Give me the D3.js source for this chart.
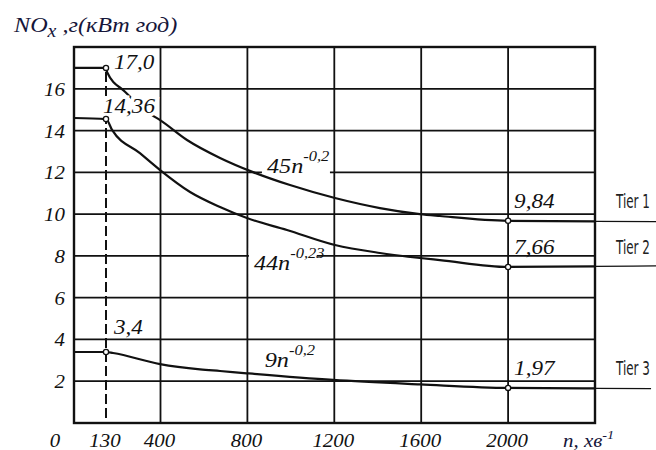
<!DOCTYPE html>
<html>
<head>
<meta charset="utf-8">
<script src="https://cdn.jsdelivr.net/npm/d3@7"></script>
<style>
body { margin: 0; background: #fff; }
</style>
</head>
<body>
<div id="chart"></div>
<script>
var W = 656, H = 450;
var SX = 1.1; // the scan is stretched sideways

// engine speed n, rpm and NOx, g/kWh
var tier1_n = [0, 130, 135, 224, 358, 398, 522, 674, 826, 996, 1203, 1410, 1594, 1686, 2000, 2681];
var tier1_v = [17.0, 17.0, 16.8, 15.86, 14.74, 14.5, 13.55, 12.69, 12.01, 11.39, 10.77, 10.29, 10.0, 9.91, 9.68, 9.64];

var tier2_n = [0, 130, 160, 298, 398, 536, 674, 798, 982, 1203, 1410, 1594, 1686, 2000, 2681];
var tier2_v = [14.6, 14.55, 14.03, 12.92, 12.11, 11.06, 10.34, 9.81, 9.24, 8.52, 8.14, 7.9, 7.8, 7.47, 7.52];

var tier3_n = [0, 130, 165, 398, 582, 674, 797, 1194, 1595, 2000, 2658];
var tier3_v = [3.4, 3.4, 3.35, 2.82, 2.57, 2.49, 2.38, 2.06, 1.85, 1.68, 1.65];

var tier_names = ["Tier 1", "Tier 2", "Tier 3"];
var start_labels = ["17,0", "14,36", "3,4"];
var end_labels = ["9,84", "7,66", "1,97"];
var formula_base = ["45n", "44n", "9n"];
var formula_exp = ["-0,2", "-0,23", "-0,2"];
var formula_n = [890, 830, 880];
var formula_v = [11.97, 7.33, 2.69];

var x_ticks = [130, 400, 800, 1200, 1600, 2000];
var x_grid = [400, 800, 1200, 1600, 2000];
var y_ticks = [2, 4, 6, 8, 10, 12, 14, 16];

var x = d3.scaleLinear().domain([0, 130, 400, 2400]).range([74, 106, 160.5, 595]);
var y = d3.scaleLinear().domain([0, 18]).range([423, 47]);

var svg = d3.select("#chart").append("svg")
	.attr("width", W)
	.attr("height", H);

var serif = "Liberation Serif, DejaVu Serif, Times New Roman, serif";

function label(px, py, size, anchor) {
	return svg.append("text")
		.attr("transform", "translate(" + px + "," + py + ") scale(" + SX + ",1)")
		.style("font-family", serif)
		.style("font-style", "italic")
		.style("font-size", size + "px")
		.attr("text-anchor", anchor || "start")
		.attr("fill", "#111");
}

// grid
var grid = svg.append("g").attr("stroke", "#111").attr("stroke-width", 1.8);
grid.selectAll(".h").data(y_ticks).enter().append("line")
	.attr("x1", x(0)).attr("x2", x(2400))
	.attr("y1", function(d) { return y(d); })
	.attr("y2", function(d) { return y(d); });
grid.selectAll(".v").data(x_grid).enter().append("line")
	.attr("x1", function(d) { return x(d); })
	.attr("x2", function(d) { return x(d); })
	.attr("y1", y(18)).attr("y2", y(0));

// frame
svg.append("rect")
	.attr("x", x(0)).attr("y", y(18))
	.attr("width", x(2400) - x(0)).attr("height", y(0) - y(18))
	.attr("fill", "none").attr("stroke", "#111").attr("stroke-width", 2.4);

// white patches where the formulas break the grid
formula_base.forEach(function(b, i) {
	if (i == 2) return;
	svg.append("rect")
		.attr("x", x(formula_n[i]) - 5)
		.attr("y", y(formula_v[i]) - 22)
		.attr("width", 68)
		.attr("height", 26)
		.attr("fill", "#fff");
});

// dashed line at 130 rpm
svg.append("line")
	.attr("x1", x(130)).attr("x2", x(130))
	.attr("y1", y(17.0) + 4).attr("y2", y(0))
	.attr("stroke", "#111").attr("stroke-width", 2)
	.attr("stroke-dasharray", "10,4");

var series = [
	d3.zip(tier1_n, tier1_v),
	d3.zip(tier2_n, tier2_v),
	d3.zip(tier3_n, tier3_v)
];

var line = d3.line()
	.x(function(d) { return x(d[0]); })
	.y(function(d) { return y(d[1]); })
	.curve(d3.curveMonotoneX);

svg.append("clipPath").attr("id", "inside")
	.append("rect").attr("x", 0).attr("y", 0).attr("width", x(2400)).attr("height", H);
svg.append("clipPath").attr("id", "outside")
	.append("rect").attr("x", x(2400)).attr("y", 0).attr("width", W).attr("height", H);

series.forEach(function(s) {
	svg.append("path").datum(s)
		.attr("d", line)
		.attr("fill", "none").attr("stroke", "#111").attr("stroke-width", 2.2)
		.attr("clip-path", "url(#inside)");
	svg.append("path").datum(s)
		.attr("d", line)
		.attr("fill", "none").attr("stroke", "#111").attr("stroke-width", 1.2)
		.attr("clip-path", "url(#outside)");
});

// value labels
series.forEach(function(s, i) {
	var p0 = s[1];
	var p1 = s.find(function(d) { return d[0] == 2000; });
	var t = label(x(p0[0]) + (i == 1 ? -3 : 8), y(p0[1]) + (i == 1 ? -6 : 1) - (i == 2 ? 19 : 0) , 21)
		.text(start_labels[i]);
	if (i == 1) t.attr("stroke", "#fff").attr("stroke-width", 7).attr("paint-order", "stroke");
	label(x(p1[0]) + 6, y(p1[1]) - 13, 21).text(end_labels[i]);
	svg.append("text")
		.attr("transform", "translate(" + (x(2400) + 21) + "," + (y(p1[1]) - 13) + ") scale(0.7,1)")
		.style("font-family", "Liberation Sans Narrow, DejaVu Sans Condensed, sans-serif")
		.style("font-size", "19px")
		.attr("fill", "#222")
		.text(tier_names[i]);
});

// markers
series.forEach(function(s) {
	svg.selectAll(null).data(s.filter(function(d) { return d[0] == 130 || d[0] == 2000; }))
		.enter().append("circle")
		.attr("cx", function(d) { return x(d[0]); })
		.attr("cy", function(d) { return y(d[1]); })
		.attr("r", 2.6)
		.attr("fill", "#fff").attr("stroke", "#111").attr("stroke-width", 1.3);
});

// formulas
formula_base.forEach(function(b, i) {
	var t = label(x(formula_n[i]), y(formula_v[i]), 22);
	t.append("tspan").text(b);
	t.append("tspan").attr("dy", -12).style("font-size", "15px").text(formula_exp[i]);
});

// axis labels
y_ticks.forEach(function(d) {
	label(x(0) - 9, y(d) + 7, 19, "end").text(d);
});
label(x(0) - 19, 447, 19, "middle").text("0");
x_ticks.forEach(function(d) {
	label(x(d) - 1, 447, 19, "middle").text(d);
});

var xl = label(563, 447, 19).attr("fill", "#16163a");
xl.append("tspan").text("n, хв");
xl.append("tspan").attr("dy", -8).style("font-size", "13px").text("-1");

var title = label(14, 32, 22).attr("fill", "#16163a");
title.append("tspan").text("NO");
title.append("tspan").attr("dy", 5).style("font-size", "18px").text("x");
title.append("tspan").attr("dy", -5).text(" ,г(кВт год)");
</script>
</body>
</html>
